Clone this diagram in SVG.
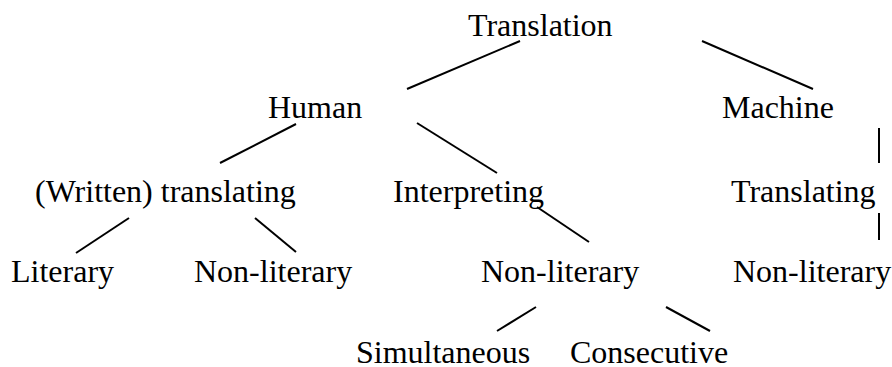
<svg xmlns="http://www.w3.org/2000/svg" width="892" height="367" viewBox="0 0 892 367">
<style>
text{font-family:"Liberation Serif","Times New Roman",serif;font-size:32px;fill:#000}
line{stroke:#000;stroke-width:2}
</style>
<rect width="892" height="367" fill="#fff"/>
<g id="connectors">
<line x1="520" y1="41" x2="407" y2="89"/>
<line x1="702" y1="41" x2="813" y2="89"/>
<line x1="296" y1="124" x2="220" y2="163"/>
<line x1="417" y1="123" x2="497" y2="173"/>
<line x1="879" y1="128" x2="879" y2="163"/>
<line x1="879" y1="213" x2="879" y2="240"/>
<line x1="129" y1="218" x2="76" y2="253"/>
<line x1="255" y1="218" x2="296" y2="252"/>
<line x1="537" y1="207" x2="589" y2="242"/>
<line x1="536" y1="307" x2="497" y2="331"/>
<line x1="666" y1="307" x2="710" y2="331"/>
</g>
<g id="n-translation"><text x="468" y="36">Translation</text></g>
<g id="n-human"><text x="268" y="118">Human</text></g>
<g id="n-machine"><text x="722" y="118">Machine</text></g>
<g id="n-written"><text x="35" y="202">(Written) translating</text></g>
<g id="n-interpreting"><text x="393" y="202">Interpreting</text></g>
<g id="n-translating"><text x="731" y="202">Translating</text></g>
<g id="n-literary"><text x="11" y="282">Literary</text></g>
<g id="n-nonlit1"><text x="194" y="282">Non-literary</text></g>
<g id="n-nonlit2"><text x="481" y="282">Non-literary</text></g>
<g id="n-nonlit3"><text x="733" y="282">Non-literary</text></g>
<g id="n-simultaneous"><text x="356" y="363">Simultaneous</text></g>
<g id="n-consecutive"><text x="570" y="363">Consecutive</text></g>
</svg>
